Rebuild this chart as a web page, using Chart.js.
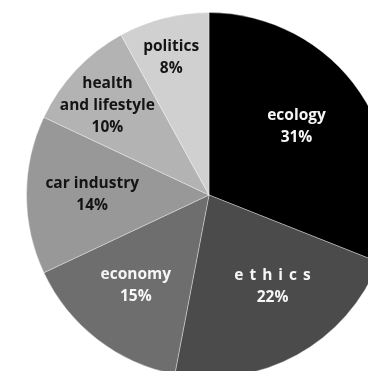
<!DOCTYPE html>
<html>
<head>
<meta charset="utf-8">
<script src="https://cdn.jsdelivr.net/npm/chart.js@4"></script>
<style>
  html, body { margin: 0; padding: 0; background: #fff; overflow: hidden; }
  #wrap { position: relative; width: 418px; height: 390px; }
</style>
</head>
<body>
<div id="wrap"><canvas id="topicChart"></canvas></div>
<script>
// topics, clockwise from 12 o'clock
const topics = ['ecology', 'ethics', 'economy', 'car industry', 'health and lifestyle', 'politics'];
const shares = [31, 22, 15, 14, 10, 8];
// how each label is broken into lines
const labelLines = [['ecology'], ['ethics'], ['economy'], ['car industry'], ['health', 'and lifestyle'], ['politics']];

const sliceColors = ['#000000', '#4b4b4b', '#6e6e6e', '#989898', '#b3b3b3', '#d0d0d0'];
const textColors = ['#f6f6f6', '#f6f6f6', '#f6f6f6', '#141414', '#141414', '#141414'];
// label placement: fraction of the radius and a small angular nudge (degrees)
const labelRadius = [0.61, 0.61, 0.64, 0.64, 0.74, 0.78];
const labelNudge = [-4, -6, 1, 0, -2, -1];
const labelSpacing = [0, 6, 0, 0, 0, 0];

const sliceLabels = {
  id: 'sliceLabels',
  afterDatasetsDraw(chart) {
    const ctx = chart.ctx;
    const meta = chart.getDatasetMeta(0);
    ctx.save();
    ctx.font = 'bold 15.5px "Open Sans", sans-serif';
    ctx.textAlign = 'center';
    ctx.textBaseline = 'middle';
    meta.data.forEach((arc, i) => {
      const p = arc.getProps(['x', 'y', 'startAngle', 'endAngle', 'outerRadius'], true);
      const mid = (p.startAngle + p.endAngle) / 2 + labelNudge[i] * Math.PI / 180;
      const r = p.outerRadius * labelRadius[i];
      const cx = p.x + Math.cos(mid) * r;
      const cy = p.y + Math.sin(mid) * r;
      const lines = labelLines[i].concat([shares[i] + '%']);
      const lh = 22;
      const top = cy - (lines.length - 1) * lh / 2;
      ctx.fillStyle = textColors[i];
      lines.forEach((line, j) => {
        const sp = j === 0 ? labelSpacing[i] : 0;
        ctx.letterSpacing = sp + 'px';
        ctx.fillText(line, cx + sp / 2, top + j * lh);
      });
      ctx.letterSpacing = '0px';
    });
    ctx.restore();
  }
};

new Chart(document.getElementById('topicChart'), {
  type: 'pie',
  data: {
    labels: topics,
    datasets: [{
      data: shares,
      backgroundColor: sliceColors,
      borderColor: 'rgba(255,255,255,0.35)',
      borderWidth: 1
    }]
  },
  options: {
    responsive: true,
    maintainAspectRatio: false,
    animation: false,
    layout: { padding: 12 },
    plugins: {
      legend: { display: false },
      tooltip: { enabled: false }
    }
  },
  plugins: [sliceLabels]
});
</script>
</body>
</html>
